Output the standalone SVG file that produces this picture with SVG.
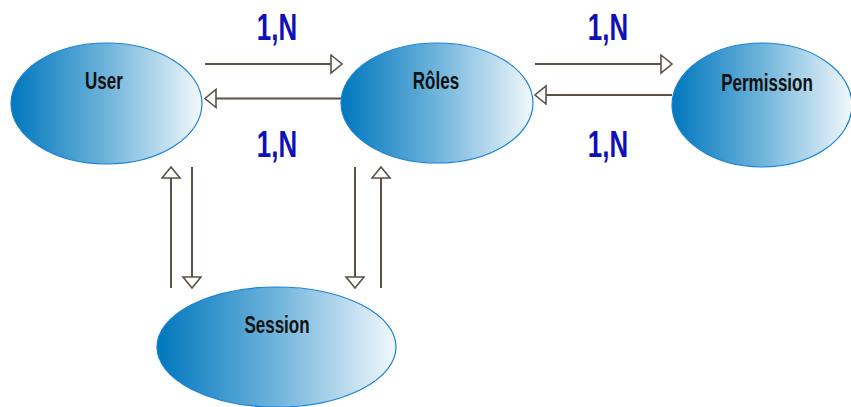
<svg xmlns="http://www.w3.org/2000/svg" width="851" height="407" viewBox="0 0 851 407">
  <style>
    .node { stroke: #1b82d6; stroke-width: 1.2; fill: url(#blueFade); }
    .label { font-family: "Liberation Sans", Arial, sans-serif; font-weight: bold; font-size: 23px; fill: #111; text-anchor: middle; }
    .card { font-family: "Liberation Sans", Arial, sans-serif; font-weight: bold; font-size: 37px; fill: #1010b8; text-anchor: middle; }
    .link { stroke: #5a5244; stroke-width: 2; fill: none; marker-end: url(#openHead); }
  </style>
  <defs>
    <linearGradient id="blueFade" x1="0" y1="0" x2="1" y2="0">
      <stop offset="0" stop-color="#0077bd"/>
      <stop offset="0.5" stop-color="#6fb4db"/>
      <stop offset="1" stop-color="#f2f8fc"/>
    </linearGradient>
    <marker id="openHead" markerUnits="userSpaceOnUse" markerWidth="16" markerHeight="22" refX="13" refY="10" orient="auto">
      <path d="M2,1 L13,10 L2,19 Z" fill="#fff" stroke="#5a5244" stroke-width="1.6"/>
    </marker>
  </defs>

  <g id="connectors">
    <!-- User <-> Roles -->
    <line class="link" x1="205" y1="64" x2="342" y2="64"/>
    <line class="link" x1="342" y1="98.5" x2="205" y2="98.5"/>
    <!-- Roles <-> Permission -->
    <line class="link" x1="535" y1="64" x2="672" y2="64"/>
    <line class="link" x1="672" y1="95" x2="535" y2="95"/>
    <!-- User <-> Session -->
    <line class="link" x1="171" y1="288" x2="171" y2="167"/>
    <line class="link" x1="192" y1="167" x2="192" y2="288"/>
    <!-- Roles <-> Session -->
    <line class="link" x1="355" y1="167" x2="355" y2="288"/>
    <line class="link" x1="381" y1="288" x2="381" y2="167"/>
  </g>

  <g id="cardinalities">
    <text class="card" transform="translate(277,40) scale(0.7,1)">1,N</text>
    <text class="card" transform="translate(277,157) scale(0.7,1)">1,N</text>
    <text class="card" transform="translate(608,40) scale(0.7,1)">1,N</text>
    <text class="card" transform="translate(608,157) scale(0.7,1)">1,N</text>
  </g>

  <g id="user">
    <ellipse class="node" cx="106.5" cy="103.5" rx="95.5" ry="60.5"/>
    <text class="label" transform="translate(104,89) scale(0.74,1)">User</text>
  </g>

  <g id="roles">
    <ellipse class="node" cx="437" cy="103" rx="96" ry="60"/>
    <text class="label" transform="translate(436,89) scale(0.74,1)">Rôles</text>
  </g>

  <g id="permission">
    <ellipse class="node" cx="762" cy="105" rx="90" ry="62"/>
    <text class="label" transform="translate(767,91) scale(0.74,1)">Permission</text>
  </g>

  <g id="session">
    <ellipse class="node" cx="276.5" cy="347" rx="119.5" ry="60"/>
    <text class="label" transform="translate(277,333) scale(0.74,1)">Session</text>
  </g>
</svg>
